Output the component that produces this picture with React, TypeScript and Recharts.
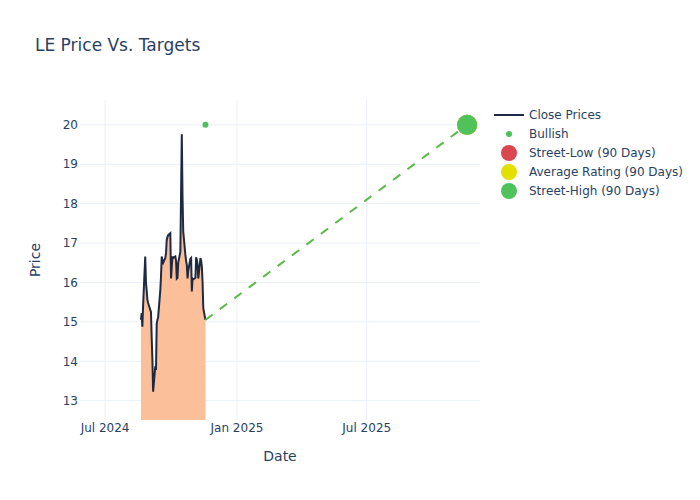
import React from 'react';
import { ComposedChart, Area, Line, Scatter, XAxis, YAxis, CartesianGrid, Legend } from 'recharts';

const FONT = '"DejaVu Sans", Verdana, sans-serif';
const TEXT = '#2a3f5f';

const closeDates = [
    '2024-08-20', '2024-08-21', '2024-08-22', '2024-08-23', '2024-08-26', '2024-08-27', '2024-08-28', '2024-08-29', '2024-08-30',
    '2024-09-03', '2024-09-04', '2024-09-05', '2024-09-06', '2024-09-09', '2024-09-10', '2024-09-11', '2024-09-12', '2024-09-13',
    '2024-09-16', '2024-09-17', '2024-09-18', '2024-09-19', '2024-09-20', '2024-09-23', '2024-09-24', '2024-09-25', '2024-09-26',
    '2024-09-27', '2024-09-30', '2024-10-01', '2024-10-02', '2024-10-03', '2024-10-04', '2024-10-07', '2024-10-08', '2024-10-09',
    '2024-10-10', '2024-10-11', '2024-10-14', '2024-10-15', '2024-10-16', '2024-10-17', '2024-10-18', '2024-10-21', '2024-10-22',
    '2024-10-23', '2024-10-24', '2024-10-25', '2024-10-28', '2024-10-29', '2024-10-30', '2024-10-31', '2024-11-01', '2024-11-04',
    '2024-11-05', '2024-11-06', '2024-11-07', '2024-11-08', '2024-11-11', '2024-11-12', '2024-11-13', '2024-11-14', '2024-11-15',
    '2024-11-18',
];
const closePrices = [
    15.05, 15.22, 14.88, 15.4, 16.66, 16.0, 15.8, 15.56, 15.48,
    15.25, 14.6, 14.04, 13.23, 13.87, 13.78, 14.95, 15.05, 15.12,
    15.8, 16.15, 16.66, 16.55, 16.5, 16.62, 16.75, 17.08, 17.15,
    17.2, 17.25, 16.1, 16.4, 16.66, 16.62, 16.66, 16.55, 16.1,
    16.12, 16.5, 16.78, 18.3, 19.76, 18.2, 17.3, 16.7, 16.55,
    16.45, 16.1, 16.3, 16.6, 16.62, 15.77, 16.1, 16.08, 16.12,
    16.64, 16.58, 16.45, 16.1, 16.62, 16.55, 16.4, 16.0, 15.35,
    15.05,
];

const bullishDate = '2024-11-18';
const bullishValue = 20;
const targetDate = '2025-11-18';
const streetLow = 20;
const averageRating = 20;
const streetHigh = 20;

const xTicks = ['2024-07-01', '2025-01-01', '2025-07-01'];
const xTickLabels = ['Jul 2024', 'Jan 2025', 'Jul 2025'];
const xRange = ['2024-05-27', '2025-12-06'];
const yTicks = [13, 14, 15, 16, 17, 18, 19, 20];
const yRange = [12.51, 20.63];

const legendItems = [
    { label: 'Close Prices', kind: 'line', color: '#1e2a44', r: 0 },
    { label: 'Bullish', kind: 'dot', color: '#4cc05a', r: 3 },
    { label: 'Street-Low (90 Days)', kind: 'dot', color: '#d9474f', r: 8 },
    { label: 'Average Rating (90 Days)', kind: 'dot', color: '#e2e000', r: 8 },
    { label: 'Street-High (90 Days)', kind: 'dot', color: '#4fc35a', r: 8 },
];

const ts = (s: string) => Date.parse(s + 'T00:00:00Z');

const circle = (r: number, color: string) => (p: any) => <circle cx={p.cx} cy={p.cy} r={r} fill={color} />;

function renderLegend() {
    return (
        <svg width={210} height={100} style={{ display: 'block' }}>
            {legendItems.map((it, i) => {
                const y = 10 + i * 19;
                return (
                    <g key={it.label}>
                        {it.kind === 'line' ? (
                            <line x1={4} x2={34} y1={y} y2={y} stroke={it.color} strokeWidth={2} />
                        ) : (
                            <circle cx={19} cy={y} r={it.r} fill={it.color} />
                        )}
                        <text x={39} y={y + 4} fontSize={12} fontFamily={FONT} fill={TEXT}>{it.label}</text>
                    </g>
                );
            })}
        </svg>
    );
}

export default function App() {
    const closeData = closeDates.map((d, i) => ({ t: ts(d), close: closePrices[i] }));
    const last = closeData[closeData.length - 1];
    const projection = [{ t: last.t, v: last.close }, { t: ts(targetDate), v: streetHigh }];
    const tickTs = xTicks.map(ts);
    const tickStyle = { fill: TEXT, fontSize: 12, fontFamily: FONT };

    return (
        <div style={{ position: 'absolute', left: 0, top: 0, width: 700, height: 500, background: '#fff' }}>
            <ComposedChart width={700} height={500} data={closeData} margin={{ top: 100, right: 220, bottom: 35, left: 20 }}>
                {/* syncWithTicks: grid only at the ticks, no frame at the plot edges */}
                <CartesianGrid stroke="#ebf0f8" strokeWidth={1} syncWithTicks />
                <XAxis
                    type="number"
                    dataKey="t"
                    domain={xRange.map(ts)}
                    ticks={tickTs}
                    interval={0}
                    tickFormatter={(v: number) => xTickLabels[tickTs.indexOf(v)]}
                    allowDataOverflow
                    axisLine={false}
                    tickLine={false}
                    tickSize={0}
                    tickMargin={3}
                    height={45}
                    tick={tickStyle}
                />
                <YAxis
                    type="number"
                    domain={yRange}
                    ticks={yTicks}
                    interval={0}
                    allowDataOverflow
                    axisLine={false}
                    tickLine={false}
                    tickSize={0}
                    tickMargin={2}
                    width={60}
                    tick={tickStyle}
                />
                <Area
                    dataKey="close"
                    type="linear"
                    stroke="#1e2a44"
                    strokeWidth={2}
                    fill="#fbbf99"
                    fillOpacity={1}
                    dot={false}
                    activeDot={false}
                    isAnimationActive={false}
                />
                <Line
                    data={projection}
                    dataKey="v"
                    type="linear"
                    stroke="#5ab947"
                    strokeWidth={2}
                    strokeDasharray="9 9"
                    dot={false}
                    activeDot={false}
                    isAnimationActive={false}
                />
                <Scatter data={[{ t: ts(bullishDate), v: bullishValue }]} dataKey="v" shape={circle(3, '#4cc05a')} isAnimationActive={false} />
                <Scatter data={[{ t: ts(targetDate), v: streetLow }]} dataKey="v" shape={circle(10, '#d9474f')} isAnimationActive={false} />
                <Scatter data={[{ t: ts(targetDate), v: averageRating }]} dataKey="v" shape={circle(10, '#e2e000')} isAnimationActive={false} />
                <Scatter data={[{ t: ts(targetDate), v: streetHigh }]} dataKey="v" shape={circle(10, '#4fc35a')} isAnimationActive={false} />
                <Legend layout="horizontal" verticalAlign="middle" align="center" content={renderLegend} wrapperStyle={{ left: 490, top: 105, width: 210, height: 100 }} />
            </ComposedChart>
            <svg width={700} height={500} style={{ position: 'absolute', left: 0, top: 0, pointerEvents: 'none' }}>
                <text x={35} y={51} fontSize={17} fontFamily={FONT} fill={TEXT}>LE Price Vs. Targets</text>
                <text x={280} y={461} fontSize={14} fontFamily={FONT} fill={TEXT} textAnchor="middle">Date</text>
                <text x={40} y={260} fontSize={14} fontFamily={FONT} fill={TEXT} textAnchor="middle" transform="rotate(-90 40 260)">Price</text>
            </svg>
        </div>
    );
}
